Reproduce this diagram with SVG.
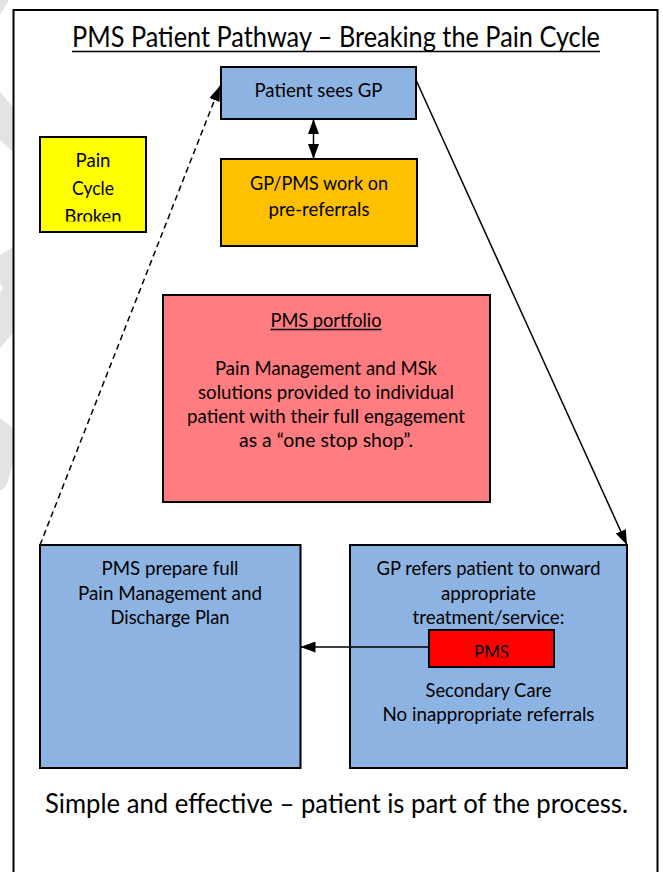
<svg xmlns="http://www.w3.org/2000/svg" width="663" height="872" viewBox="0 0 663 872">
  <style>
    .t { font-family: Lato, "Noto Sans", "Liberation Sans", sans-serif; font-size: 19px; fill: #000; text-anchor: middle; }
    .title { font-size: 28px; }
    .foot { font-size: 26px; }
    .box { stroke: #000; stroke-width: 2; }
    .blue { fill: #8db3e2; }
    .conn { stroke: #000; stroke-width: 1.5; fill: none; }
    .wm { fill: #e3e3e3; }
  </style>
  <defs>
    <marker id="ah" viewBox="0 0 15 11" refX="15" refY="5.5" markerWidth="15" markerHeight="11" orient="auto-start-reverse" markerUnits="userSpaceOnUse">
      <path d="M0,0 L15,5.5 L0,11 z" fill="#000"/>
    </marker>
    <clipPath id="clipYellow"><rect x="41" y="138" width="104" height="83.5"/></clipPath>
    <clipPath id="clipRed"><rect x="430" y="631" width="123" height="26.5"/></clipPath>
  </defs>

  <rect x="0" y="0" width="663" height="872" fill="#fff"/>

  <!-- watermark fragments at left edge -->
  <g id="watermark">
    <polygon class="wm" points="0,0 9,0 0,15"/>
    <polygon class="wm" points="0,92 13,107 13,152 0,140"/>
    <polygon class="wm" points="0,255 13,247 13,333 0,348 0,293 3,288 0,283"/>
    <path class="wm" d="M0,418 L13,428 L13,460 Q8,490 0,490 Z"/>
  </g>

  <!-- outer frame -->
  <rect id="frame" x="13.5" y="10" width="644" height="900" fill="none" stroke="#000" stroke-width="2"/>

  <!-- title -->
  <g id="title">
    <text class="t title" x="336" y="47" textLength="528" lengthAdjust="spacingAndGlyphs">PMS Patient Pathway – Breaking the Pain Cycle</text>
    <line x1="72" y1="51.5" x2="600" y2="51.5" stroke="#000" stroke-width="1.5"/>
  </g>

  <g id="patient-sees-gp">
    <rect class="box blue" x="221" y="67" width="195" height="52"/>
    <text class="t" x="318.5" y="96.5" textLength="128" lengthAdjust="spacingAndGlyphs">Patient sees GP</text>
  </g>

  <g id="pre-referrals">
    <rect class="box" x="221" y="159" width="196" height="87" fill="#ffc000"/>
    <text class="t" x="319" y="190" textLength="138" lengthAdjust="spacingAndGlyphs">GP/PMS work on</text>
    <text class="t" x="319" y="216" textLength="101" lengthAdjust="spacingAndGlyphs">pre-referrals</text>
  </g>

  <g id="pain-cycle-broken">
    <rect class="box" x="40" y="137" width="106" height="95" fill="#ffff00"/>
    <g clip-path="url(#clipYellow)">
      <text class="t" x="93" y="166.5" textLength="35" lengthAdjust="spacingAndGlyphs">Pain</text>
      <text class="t" x="93" y="194.5" textLength="42" lengthAdjust="spacingAndGlyphs">Cycle</text>
      <text class="t" x="93" y="222.5" textLength="57" lengthAdjust="spacingAndGlyphs">Broken</text>
    </g>
  </g>

  <g id="pms-portfolio">
    <rect class="box" x="163" y="295" width="327" height="207" fill="#ff7c80"/>
    <text class="t" x="326" y="326.5" textLength="111" lengthAdjust="spacingAndGlyphs">PMS portfolio</text>
    <line x1="270.5" y1="329.5" x2="381.5" y2="329.5" stroke="#000" stroke-width="1.5"/>
    <text class="t" x="326" y="375" textLength="222" lengthAdjust="spacingAndGlyphs">Pain Management and MSk</text>
    <text class="t" x="326" y="398.5" textLength="256" lengthAdjust="spacingAndGlyphs">solutions provided to individual</text>
    <text class="t" x="326" y="423" textLength="278" lengthAdjust="spacingAndGlyphs">patient with their full engagement</text>
    <text class="t" x="326" y="446.5" textLength="174" lengthAdjust="spacingAndGlyphs">as a “one stop shop”.</text>
  </g>

  <g id="discharge-plan">
    <rect class="box blue" x="40" y="545" width="260.5" height="223"/>
    <text class="t" x="170" y="575" textLength="137" lengthAdjust="spacingAndGlyphs">PMS prepare full</text>
    <text class="t" x="170" y="599.5" textLength="184" lengthAdjust="spacingAndGlyphs">Pain Management and</text>
    <text class="t" x="170" y="624" textLength="119" lengthAdjust="spacingAndGlyphs">Discharge Plan</text>
  </g>

  <g id="gp-refers">
    <rect class="box blue" x="350" y="545" width="277" height="223"/>
    <text class="t" x="488.5" y="575" textLength="224" lengthAdjust="spacingAndGlyphs">GP refers patient to onward</text>
    <text class="t" x="488.5" y="599.5" textLength="95" lengthAdjust="spacingAndGlyphs">appropriate</text>
    <text class="t" x="488.5" y="623.5" textLength="152" lengthAdjust="spacingAndGlyphs">treatment/service:</text>
    <text class="t" x="488.5" y="697" textLength="126" lengthAdjust="spacingAndGlyphs">Secondary Care</text>
    <text class="t" x="488.5" y="720.5" textLength="212" lengthAdjust="spacingAndGlyphs">No inappropriate referrals</text>
  </g>

  <g id="pms-red">
    <rect class="box" x="429" y="630" width="125" height="37" fill="#ff0000"/>
    <g clip-path="url(#clipRed)">
      <text class="t" x="491.5" y="659" textLength="35" lengthAdjust="spacingAndGlyphs">PMS</text>
    </g>
  </g>

  <g id="connectors">
    <line class="conn" x1="313.5" y1="119" x2="313.5" y2="159" marker-start="url(#ah)" marker-end="url(#ah)"/>
    <line class="conn" x1="416" y1="80" x2="627" y2="545" marker-end="url(#ah)"/>
    <line class="conn" x1="40" y1="545" x2="220" y2="86" stroke-dasharray="6,4" marker-end="url(#ah)"/>
    <line class="conn" x1="429" y1="647" x2="300.5" y2="647" marker-end="url(#ah)"/>
  </g>

  <g id="footer">
    <text class="t foot" x="336.5" y="813" textLength="583" lengthAdjust="spacingAndGlyphs">Simple and effective – patient is part of the process.</text>
  </g>
</svg>
